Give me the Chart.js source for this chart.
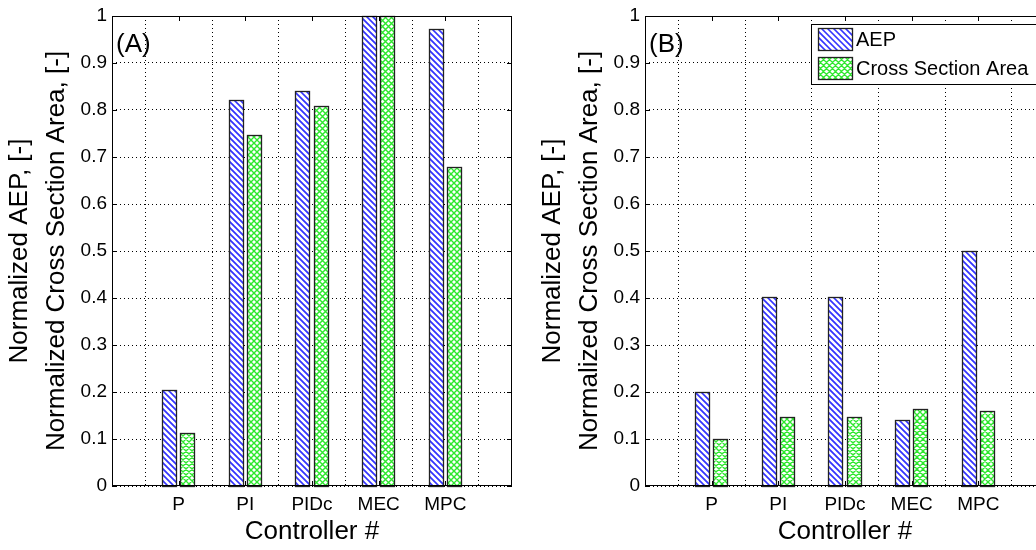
<!DOCTYPE html>
<html>
<head>
<meta charset="utf-8">
<script src="https://cdn.jsdelivr.net/npm/chart.js@4.4.0/dist/chart.umd.min.js"></script>
<style>
  html, body { margin: 0; padding: 0; overflow: hidden; background: #fff; }
  #wrap { position: relative; width: 1036px; height: 550px; overflow: hidden; }
  .panel { position: absolute; top: 0; width: 533px; height: 550px; }
</style>
</head>
<body>
<div id="wrap">
  <div class="panel" style="left:0"><canvas id="chartA" width="533" height="550"></canvas></div>
  <div class="panel" style="left:533px"><canvas id="chartB" width="533" height="550"></canvas></div>
</div>
<script>
// values
const controllers = ['P', 'PI', 'PIDc', 'MEC', 'MPC'];
const seriesNames = ['AEP', 'Cross Section Area'];
const aepA  = [0.204, 0.821, 0.841, 1.0, 0.973];
const areaA = [0.113, 0.747, 0.809, 1.0, 0.678];
const aepB  = [0.199, 0.403, 0.403, 0.141, 0.499];
const areaB = [0.099, 0.147, 0.147, 0.163, 0.160];
const yTitle = ['Normalized AEP, [-]', 'Normalized Cross Section Area, [-]'];
const xTitle = 'Controller #';
const hatchColors = ['#3434ff', '#2ee82e'];
const hatchWidths = [1.6, 1.3];

Chart.defaults.font.family = '"Liberation Sans", Arial, Helvetica, sans-serif';
Chart.defaults.color = '#000';

// matlab-like hatching inside a rect: "\" lines, plus "/" for the second series
function hatchRect(ctx, x0, y0, w, h, i) {
    const cross = i === 1;
    ctx.save();
    ctx.beginPath();
    ctx.rect(x0, y0, w, h);
    ctx.clip();
    ctx.fillStyle = '#fff';
    ctx.fillRect(x0, y0, w, h);
    ctx.strokeStyle = hatchColors[i];
    ctx.lineWidth = hatchWidths[i];
    ctx.beginPath();
    const step = 6;
    const start = Math.floor((x0 - h) / step) * step;
    for (let k = start; k < x0 + w + step; k += step) {
        ctx.moveTo(k, y0); ctx.lineTo(k + h, y0 + h);
        if (cross) { ctx.moveTo(k + h, y0); ctx.lineTo(k, y0 + h); }
    }
    ctx.stroke();
    ctx.restore();
    ctx.save();
    ctx.strokeStyle = '#222';
    ctx.lineWidth = 1.3;
    ctx.strokeRect(x0 + 0.5, y0 + 0.5, w - 1, h - 1);
    ctx.restore();
}

// empty slot at each end so the axis runs 0..6
const pad = arr => [null, ...arr, null];

const hatchBars = {
    id: 'hatchBars',
    afterDatasetsDraw(chart) {
        const ctx = chart.ctx;
        chart.data.datasets.forEach((ds, i) => {
            chart.getDatasetMeta(i).data.forEach(bar => {
                const {x, y, width, base} = bar.getProps(['x', 'y', 'width', 'base'], true);
                if (isNaN(y) || y === base) return;
                const left = Math.round(x - width / 2), right = Math.round(x + width / 2);
                const top = Math.round(Math.min(y, base)), bottom = Math.round(Math.max(y, base));
                hatchRect(ctx, left, top, right - left, bottom - top + 1, i);
            });
        });
    }
};

const frame = {
    id: 'frame',
    afterDraw(chart, args, opts) {
        const {ctx, chartArea: a, scales: {x, y}} = chart;
        ctx.save();
        ctx.strokeStyle = '#000';
        ctx.lineWidth = 1;
        ctx.beginPath();
        y.ticks.forEach(t => {
            const py = Math.round(y.getPixelForValue(t.value)) + 0.5;
            ctx.moveTo(a.left, py); ctx.lineTo(a.left + 5, py);
            ctx.moveTo(a.right, py); ctx.lineTo(a.right - 5, py);
        });
        x.ticks.forEach((t, i) => {
            if (!x.getLabelForValue(t.value)) return;
            const px = Math.round(x.getPixelForTick(i)) + 0.5;
            ctx.moveTo(px, a.top); ctx.lineTo(px, a.top + 5);
            ctx.moveTo(px, a.bottom); ctx.lineTo(px, a.bottom - 5);
        });
        ctx.stroke();
        ctx.strokeRect(a.left + 0.5, a.top + 0.5, a.right - a.left - 1, a.bottom - a.top - 1);

        ctx.font = '26px "Liberation Sans", Arial, sans-serif';
        ctx.fillStyle = '#000';
        ctx.textBaseline = 'middle';
        ctx.fillText(opts.label, a.left + 4, a.top + 29);

        if (opts.legend) {
            const lx = a.left + 166, ly = a.top + 8;
            ctx.fillStyle = '#fff';
            ctx.fillRect(lx, ly, 300, 60);
            ctx.strokeRect(lx + 0.5, ly + 0.5, 300, 60);
            ctx.font = '20px "Liberation Sans", Arial, sans-serif';
            chart.data.datasets.forEach((ds, i) => {
                const sy = ly + 4 + i * 29;
                hatchRect(ctx, lx + 7, sy, 35, 23, i);
                ctx.fillStyle = '#000';
                ctx.fillText(ds.label, lx + 45, sy + 12);
            });
        }
        ctx.restore();
    }
};

function makeChart(id, aep, area, label, legend) {
    new Chart(document.getElementById(id), {
        type: 'bar',
        data: {
            labels: pad(controllers),
            datasets: [
                {label: seriesNames[0], data: pad(aep), backgroundColor: '#fff', borderWidth: 0},
                {label: seriesNames[1], data: pad(area), backgroundColor: '#fff', borderWidth: 0}
            ]
        },
        options: {
            responsive: false,
            animation: false,
            categoryPercentage: 0.55,
            barPercentage: 0.83,
            layout: {padding: {left: 0, top: 16, right: 21, bottom: 0}},
            plugins: {
                legend: {display: false},
                tooltip: {enabled: false},
                frame: {label: label, legend: legend}
            },
            scales: {
                x: {
                    offset: false,
                    grid: {color: '#000', drawTicks: false},
                    border: {display: false, dash: [1, 3]},
                    ticks: {font: {size: 19}, padding: 7, autoSkip: false, maxRotation: 0},
                    title: {display: true, text: xTitle, font: {size: 26}, padding: {top: 0, bottom: 3}},
                    afterFit(s) { s.height = 64; s.paddingLeft = 0; s.paddingRight = 0; }
                },
                y: {
                    min: 0, max: 1,
                    grid: {color: '#000', drawTicks: false},
                    border: {display: false, dash: [1, 3]},
                    ticks: {stepSize: 0.1, font: {size: 19}, padding: 5,
                            callback: v => String(Math.round(v * 10) / 10)},
                    title: {display: true, text: yTitle, font: {size: 26, lineHeight: 1.423},
                            padding: {top: 1.5, bottom: 0}},
                    afterFit(s) { s.width = 112; s.paddingTop = 0; s.paddingBottom = 0; }
                }
            }
        },
        plugins: [hatchBars, frame]
    });
}

makeChart('chartA', aepA, areaA, '(A)', false);
makeChart('chartB', aepB, areaB, '(B)', true);
</script>
</body>
</html>
